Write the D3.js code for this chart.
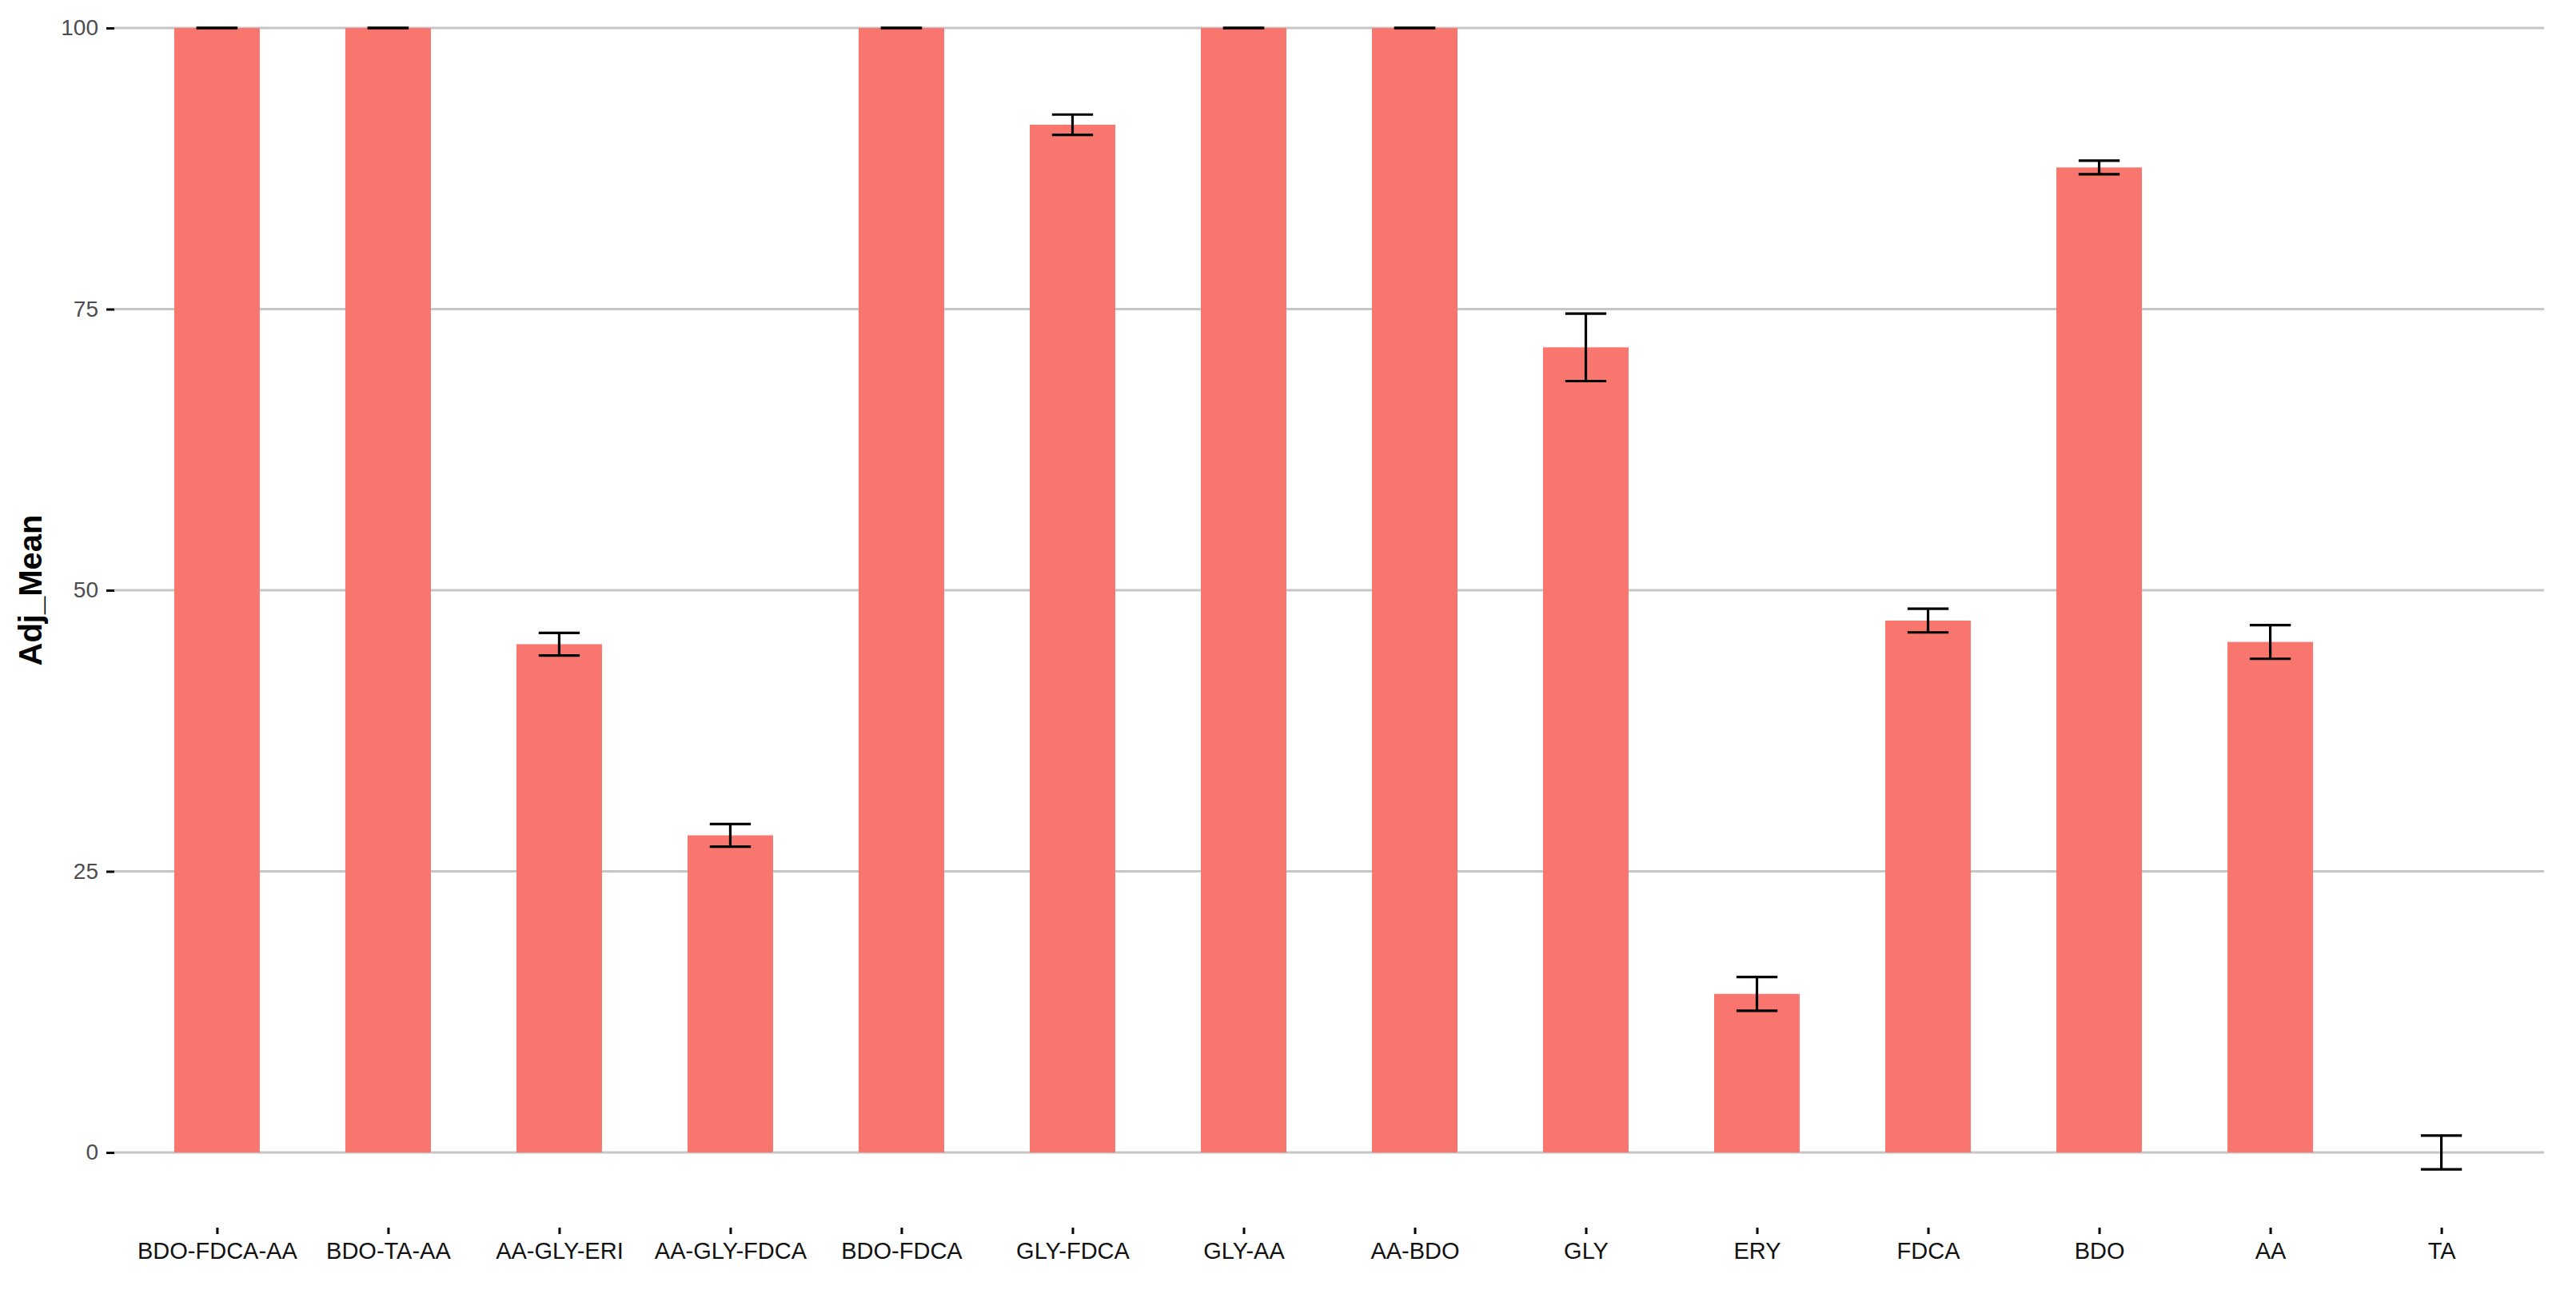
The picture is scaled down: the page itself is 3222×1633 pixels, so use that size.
<!DOCTYPE html>
<html>
<head>
<meta charset="utf-8">
<script src="https://cdn.jsdelivr.net/npm/d3@7/dist/d3.min.js"></script>
<style>
html,body{margin:0;padding:0;background:#fff;}
svg{display:block;}
</style>
</head>
<body>
<svg id="chart" width="3222" height="1633"></svg>
<script>
const categories = ["BDO-FDCA-AA","BDO-TA-AA","AA-GLY-ERI","AA-GLY-FDCA","BDO-FDCA","GLY-FDCA","GLY-AA","AA-BDO","GLY","ERY","FDCA","BDO","AA","TA"];
const means = [100, 100, 45.2, 28.2, 100, 91.4, 100, 100, 71.6, 14.1, 47.3, 87.6, 45.4, 0];
const errors = [0, 0, 1.0, 1.0, 0, 0.9, 0, 0, 3.0, 1.5, 1.05, 0.6, 1.5, 1.5];
const yTicks = [0, 25, 50, 75, 100];
const yTitle = "Adj_Mean";

const W = 3222, H = 1633;
const panel = {left: 143, right: 3182, top: 0, bottom: 1633};
const svg = d3.select("#chart");

const x = d3.scalePoint().domain(categories).range([panel.left, panel.right]).padding(0.6);
const step = x.step();
const y = d3.scaleLinear().domain([0, 100]).range([1441, 35]);

// gridlines
svg.append("g").selectAll("line").data(yTicks).join("line")
  .attr("x1", panel.left).attr("x2", panel.right)
  .attr("y1", d => y(d)).attr("y2", d => y(d))
  .attr("stroke", "#c6c6c6").attr("stroke-width", 3);

// y axis
const yAxis = d3.axisLeft(y).tickValues(yTicks).tickSize(10).tickPadding(10).tickFormat(d3.format("d"));
const ya = svg.append("g").attr("transform", `translate(${panel.left},0)`).call(yAxis);
ya.select(".domain").remove();
ya.selectAll(".tick line").attr("stroke", "#000").attr("stroke-width", 3);
ya.selectAll(".tick text").attr("fill", "#4d4d4d").attr("font-size", 28)
  .attr("font-family", "Liberation Sans, Arial, sans-serif");

// bars
const bw = step * 0.5;
svg.append("g").selectAll("rect").data(categories).join("rect")
  .attr("x", d => x(d) - bw / 2)
  .attr("width", bw)
  .attr("y", (d, i) => y(Math.max(means[i], 0)))
  .attr("height", (d, i) => Math.abs(y(0) - y(means[i])))
  .attr("fill", "#F8766D");

// error bars
const capW = step * 0.24;
const eb = svg.append("g").attr("stroke", "#000").attr("stroke-width", 3.2).attr("fill", "none");
categories.forEach((c, i) => {
  const cx = x(c), hi = y(means[i] + errors[i]), lo = y(means[i] - errors[i]);
  eb.append("line").attr("x1", cx).attr("x2", cx).attr("y1", hi).attr("y2", lo);
  eb.append("line").attr("x1", cx - capW / 2).attr("x2", cx + capW / 2).attr("y1", hi).attr("y2", hi);
  eb.append("line").attr("x1", cx - capW / 2).attr("x2", cx + capW / 2).attr("y1", lo).attr("y2", lo);
});

// x axis (ticks placed just above labels)
const xAxis = d3.axisBottom(x).tickSize(8).tickPadding(10);
const xa = svg.append("g").attr("transform", `translate(0,1535)`).call(xAxis);
xa.select(".domain").remove();
xa.selectAll(".tick line").attr("stroke", "#000").attr("stroke-width", 3);
xa.selectAll(".tick text").attr("fill", "#111").attr("font-size", 29)
  .attr("font-family", "Liberation Sans, Arial, sans-serif");

// y title
svg.append("text")
  .attr("transform", `translate(52,${y(50)}) rotate(-90)`)
  .attr("text-anchor", "middle")
  .attr("font-family", "Liberation Sans, Arial, sans-serif")
  .attr("font-weight", "bold")
  .attr("font-size", 40)
  .attr("fill", "#000")
  .text(yTitle);
</script>
</body>
</html>
